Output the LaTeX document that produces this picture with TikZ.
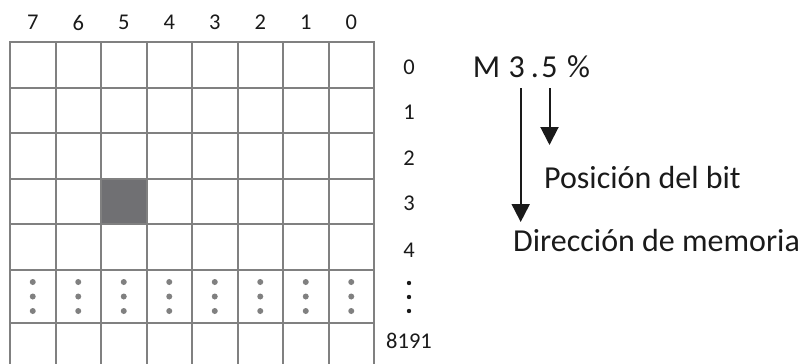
\documentclass[tikz,border=0pt]{standalone}
\usepackage{fontspec}
\setmainfont{Carlito}
\usetikzlibrary{arrows.meta}
\definecolor{gridgray}{RGB}{128,128,128}
\definecolor{cellfill}{RGB}{112,112,115}
\definecolor{inkc}{RGB}{26,26,26}

\begin{document}
\begin{tikzpicture}[x=1pt,y=-1pt,
  gridline/.style={draw=gridgray,line width=2pt,line cap=rect},
  hdr/.style={inner sep=0pt,font=\fontsize{22.5}{27}\selectfont,text=inkc},
  big/.style={inner sep=0pt,font=\fontsize{32}{38}\selectfont,text=inkc},
  arrowline/.style={draw=inkc,line width=2pt,-{Triangle[width=18pt,length=18pt]}},
  griddot/.style={fill=gridgray,circle,inner sep=0pt,minimum size=6pt},
  rowdot/.style={fill=inkc,circle,inner sep=0pt,minimum size=4.4pt}]
\useasboundingbox (0,0) rectangle (803,364);

% highlighted bit: byte 3, bit 5
\fill[cellfill] (101,178.8) rectangle (146.5,224.4);

% memory grid: 8 bit columns, rows 0..4, ellipsis row, row 8191
\foreach \i in {0,...,8}
  \draw[gridline] ({10+45.5*\i},42) -- ({10+45.5*\i},372);
\foreach \y in {42,87.6,133.2,178.8,224.4,270,323}
  \draw[gridline] (10,\y) -- (374,\y);

% bit numbers above the columns
\foreach \i in {0,...,7}
  \node[hdr] (col\i) at ({32.75+45.5*\i},22.5) {\the\numexpr7-\i\relax};

% vertical ellipsis in each column
\foreach \i in {0,...,7}
  \foreach \y [count=\k] in {282,296.5,311}
    \node[griddot] (gd\i-\k) at ({32.75+45.5*\i},\y) {};

% byte addresses
\node[hdr] (row0) at (409,67) {0};
\node[hdr] (row1) at (409,112) {1};
\node[hdr] (row2) at (409,158) {2};
\node[hdr] (row3) at (409,203) {3};
\node[hdr] (row4) at (409,250) {4};
\node[rowdot] (rd1) at (409,283) {};
\node[rowdot] (rd2) at (409,297) {};
\node[rowdot] (rd3) at (409,311) {};
\node[hdr] (rowlast) at (409,340.5) {8191};

% operand M3.5
\node[big,anchor=base] (opm) at (486.5,77) {M};
\node[big,anchor=base] (opbyte) at (516.7,77) {3};
\node[big,anchor=base] (opdot) at (535,77) {.};
\node[big,anchor=base] (opbit) at (549.5,77) {5};
\node[big,anchor=base] (oppct) at (578.5,77) {\%};

\node[big,anchor=base west] (bitlbl) at (544,188) {Posición del bit};
\node[big,anchor=base west] (memlbl) at (513,251) {Dirección de memoria};

\coordinate (memEnd) at (520.7,222);
\coordinate (bitEnd) at (549.5,145);
\draw[arrowline,shorten <=11pt] (opbyte.south -| memEnd) -- (memEnd);
\draw[arrowline,shorten <=11pt] (opbit.south -| bitEnd) -- (bitEnd);
\end{tikzpicture}
\end{document}
